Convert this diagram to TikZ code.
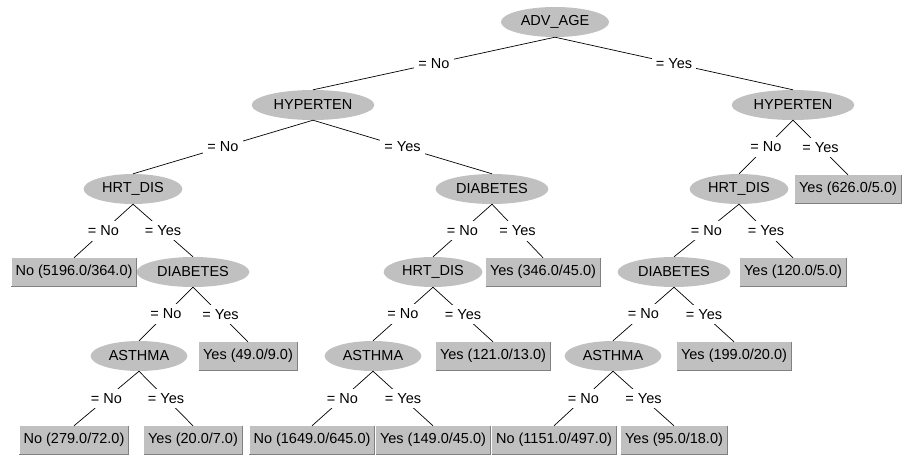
\documentclass[tikz,border=0pt]{standalone}
\usepackage{fontspec}
\setmainfont{Liberation Sans}
\usepackage{tikz}
\usetikzlibrary{shapes.geometric}

\definecolor{nodegray}{RGB}{192,192,192}
\definecolor{rimgray}{RGB}{128,128,128}

\tikzset{
  test/.style={ellipse, fill=nodegray, inner xsep=4pt, inner ysep=1.5pt, minimum height=30pt},
  leaf/.style={rectangle, fill=nodegray, inner xsep=4pt, minimum height=28pt},
  cond/.style={fill=white, inner xsep=4pt, inner ysep=4.5pt},
  branch/.style={draw=black, line width=0.7pt}
}

\begin{document}
\begin{tikzpicture}[x=1pt, y=-1pt, font=\fontsize{14.5}{16}\selectfont]
        \useasboundingbox (0,0) rectangle (902,456);
        % inner tests
        \node[test] (advage) at (555,22) {ADV\_AGE};
        \node[test] (hypL) at (313,105) {HYPERTEN};
        \node[test] (hypR) at (793,105) {HYPERTEN};
        \node[test] (hrtA) at (133,189) {HRT\_DIS};
        \node[test] (diaA) at (492,189) {DIABETES};
        \node[test] (hrtB) at (739,189) {HRT\_DIS};
        \node[test] (diaB) at (193,272) {DIABETES};
        \node[test] (hrtC) at (433,272) {HRT\_DIS};
        \node[test] (diaC) at (674,272) {DIABETES};
        \node[test] (astA) at (139,356) {ASTHMA};
        \node[test] (astB) at (373,356) {ASTHMA};
        \node[test] (astC) at (613,356) {ASTHMA};
        % leaves
        \node[leaf] (y626) at (848,189) {Yes (626.0/5.0)};
        \node[leaf] (n5196) at (74,272) {No (5196.0/364.0)};
        \node[leaf] (y346) at (543,272) {Yes (346.0/45.0)};
        \node[leaf] (y120) at (793,272) {Yes (120.0/5.0)};
        \node[leaf] (y49) at (248,356) {Yes (49.0/9.0)};
        \node[leaf] (y121) at (493,356) {Yes (121.0/13.0)};
        \node[leaf] (y199) at (734,356) {Yes (199.0/20.0)};
        \node[leaf] (n279) at (74,440) {No (279.0/72.0)};
        \node[leaf] (y20) at (193,440) {Yes (20.0/7.0)};
        \node[leaf] (n1649) at (312,440) {No (1649.0/645.0)};
        \node[leaf] (y149) at (433,440) {Yes (149.0/45.0)};
        \node[leaf] (n1151) at (554,440) {No (1151.0/497.0)};
        \node[leaf] (y95) at (674,440) {Yes (95.0/18.0)};
        \foreach \lf in {y626,n5196,y346,y120,y49,y121,y199,n279,y20,n1649,y149,n1151,y95}
          \draw[rimgray, line width=1pt] (\lf.north east) -- (\lf.south east) -- (\lf.south west);
        % branches
        \draw[branch] (advage.south) -- node[cond]{= No} (hypL.north);
        \draw[branch] (advage.south) -- node[cond]{= Yes} (hypR.north);
        \draw[branch] (hypL.south) -- node[cond]{= No} (hrtA.north);
        \draw[branch] (hypL.south) -- node[cond]{= Yes} (diaA.north);
        \draw[branch] (hypR.south) -- node[cond]{= No} (hrtB.north);
        \draw[branch] (hypR.south) -- node[cond]{= Yes} (y626.north);
        \draw[branch] (hrtA.south) -- node[cond]{= No} (n5196.north);
        \draw[branch] (hrtA.south) -- node[cond]{= Yes} (diaB.north);
        \draw[branch] (diaA.south) -- node[cond]{= No} (hrtC.north);
        \draw[branch] (diaA.south) -- node[cond]{= Yes} (y346.north);
        \draw[branch] (hrtB.south) -- node[cond]{= No} (diaC.north);
        \draw[branch] (hrtB.south) -- node[cond]{= Yes} (y120.north);
        \draw[branch] (diaB.south) -- node[cond]{= No} (astA.north);
        \draw[branch] (diaB.south) -- node[cond]{= Yes} (y49.north);
        \draw[branch] (hrtC.south) -- node[cond]{= No} (astB.north);
        \draw[branch] (hrtC.south) -- node[cond]{= Yes} (y121.north);
        \draw[branch] (diaC.south) -- node[cond]{= No} (astC.north);
        \draw[branch] (diaC.south) -- node[cond]{= Yes} (y199.north);
        \draw[branch] (astA.south) -- node[cond]{= No} (n279.north);
        \draw[branch] (astA.south) -- node[cond]{= Yes} (y20.north);
        \draw[branch] (astB.south) -- node[cond]{= No} (n1649.north);
        \draw[branch] (astB.south) -- node[cond]{= Yes} (y149.north);
        \draw[branch] (astC.south) -- node[cond]{= No} (n1151.north);
        \draw[branch] (astC.south) -- node[cond]{= Yes} (y95.north);
\end{tikzpicture}
\end{document}
